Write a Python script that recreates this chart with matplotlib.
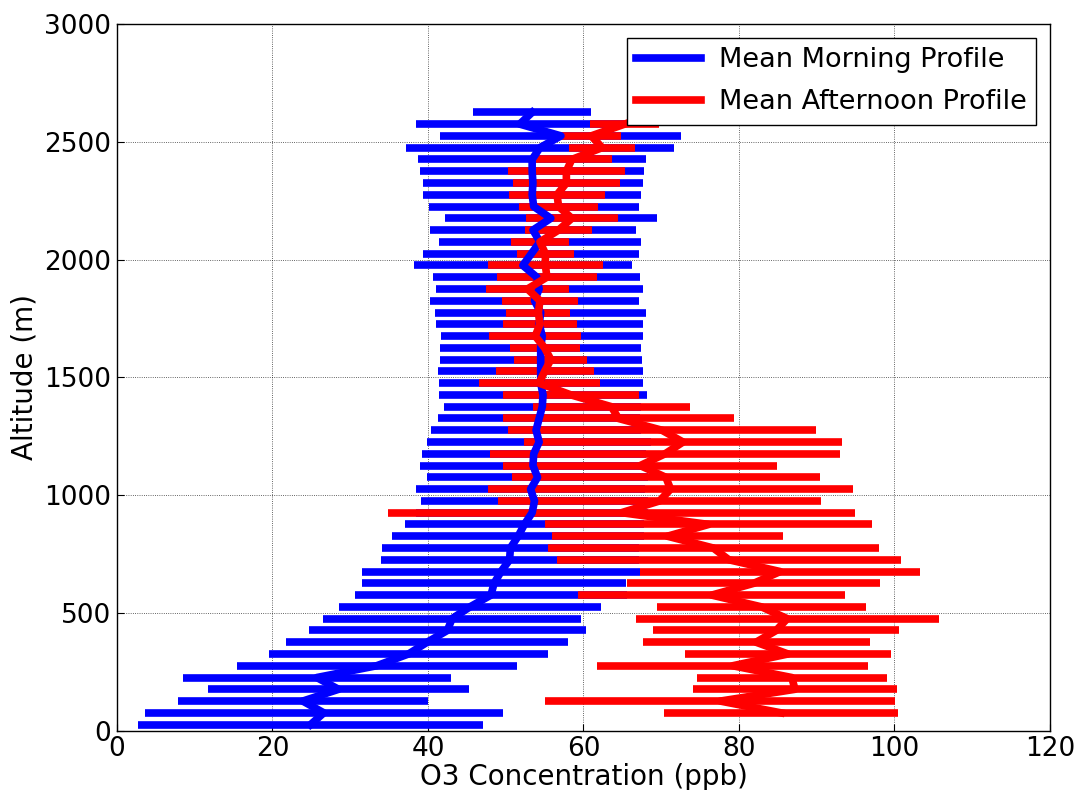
import numpy as np
import matplotlib
matplotlib.use('Agg')
import matplotlib.pyplot as plt

# ── Data ──────────────────────────────────────────────────────────────────────
# altitude bins (m), 50 m spacing
alt = np.arange(25, 2650, 50)          # 53 levels, 25 .. 2625

# morning profile: mean and std (ppb), levels 25..2625 m
morning_mean = [24.9, 26.6, 23.9, 28.5, 25.7, 33.4, 37.5, 39.9, 42.5, 43.1,
                45.4, 48.1, 48.5, 49.4, 50.5, 50.6, 51.6, 52.4, 53.4, 53.7,
                53.2, 54.1, 53.5, 53.6, 54.3, 53.9, 54.3, 54.7, 54.8, 54.5,
                54.5, 54.5, 54.5, 54.7, 54.3, 54.5, 53.7, 54.3, 54.0, 52.2,
                53.3, 54.4, 53.5, 55.8, 53.6, 53.4, 53.5, 53.4, 53.4, 54.4,
                57.1, 51.8, 53.4]
morning_std = [22.2, 23.0, 16.1, 16.8, 17.2, 18.0, 17.9, 18.1, 17.8, 16.6,
               16.8, 17.5, 17.0, 17.9, 16.6, 16.5, 16.2, 15.4, 14.9, 14.6,
               14.7, 14.2, 14.5, 14.4, 14.4, 13.5, 13.0, 12.7, 13.4, 13.1,
               13.2, 13.0, 12.9, 13.0, 13.3, 13.6, 13.5, 13.3, 13.3, 14.0,
               13.9, 13.0, 13.3, 13.6, 13.5, 14.0, 14.1, 14.4, 14.7, 17.2,
               15.5, 13.4, 7.6]

# afternoon profile: levels 75..2575 m
afternoon_mean = [85.4, 77.6, 87.2, 86.8, 79.2, 86.3, 82.2, 84.8, 86.2, 82.9,
                  76.5, 81.9, 85.3, 78.7, 76.7, 70.8, 76.1, 64.9, 69.8, 71.2,
                  70.6, 67.3, 70.5, 72.8, 70.1, 64.5, 63.6, 58.4, 54.3, 55.0,
                  55.8, 55.0, 53.8, 54.4, 54.2, 54.4, 52.8, 55.3, 55.1, 55.1,
                  54.4, 56.8, 58.5, 56.8, 56.6, 57.8, 57.8, 58.5, 62.4, 61.0,
                  65.3]
afternoon_std = [15.1, 22.5, 13.1, 12.2, 17.4, 13.2, 14.6, 15.8, 19.5, 13.5,
                 17.2, 16.3, 18.0, 22.1, 21.3, 14.8, 21.0, 30.0, 20.8, 23.5,
                 19.8, 17.6, 22.5, 20.5, 19.8, 14.8, 10.1, 8.7, 7.8, 6.3,
                 4.7, 4.5, 5.9, 4.8, 4.1, 4.9, 5.3, 6.4, 7.4, 3.7,
                 3.7, 4.3, 5.9, 5.1, 6.2, 6.9, 7.5, 5.2, 4.2, 3.8,
                 4.4]
alt_pm = alt[1:1 + len(afternoon_mean)]

# ── Plot ──────────────────────────────────────────────────────────────────────
fig = plt.figure(figsize=(10.78, 7.9), dpi=100)
ax = fig.add_axes([0.1085, 0.0753, 0.8655, 0.8943])

ax.errorbar(morning_mean, alt, xerr=morning_std, fmt='none', ecolor='b',
            elinewidth=5.5, capsize=0, zorder=2)
ax.errorbar(afternoon_mean, alt_pm, xerr=afternoon_std, fmt='none', ecolor='r',
            elinewidth=5.5, capsize=0, zorder=2.1)
ax.plot(morning_mean, alt, color='b', lw=5.5, zorder=3,
        label='Mean Morning Profile')
ax.plot(afternoon_mean, alt_pm, color='r', lw=5.5, zorder=3.1,
        label='Mean Afternoon Profile')

ax.set_xlim(0, 120)
ax.set_ylim(0, 3000)
ax.set_xticks(np.arange(0, 121, 20))
ax.set_yticks(np.arange(0, 3001, 500))
ax.tick_params(direction='in', labelsize=19, length=5, pad=4)
ax.grid(True, linestyle=':', color='k', linewidth=0.6, alpha=0.8)
ax.set_axisbelow(True)
for s in ax.spines.values():
    s.set_linewidth(1.0)

ax.set_xlabel('O3 Concentration (ppb)', fontsize=20, labelpad=1)
ax.set_ylabel('Altitude (m)', fontsize=20, labelpad=4)

leg = ax.legend(loc='upper right', fontsize=19.5, fancybox=False,
                handlelength=2.4, handletextpad=0.65, borderaxespad=0.5,
                borderpad=0.35, labelspacing=0.6, framealpha=1)
leg.get_frame().set_edgecolor('k')

fig.savefig('out.png', dpi=100)
